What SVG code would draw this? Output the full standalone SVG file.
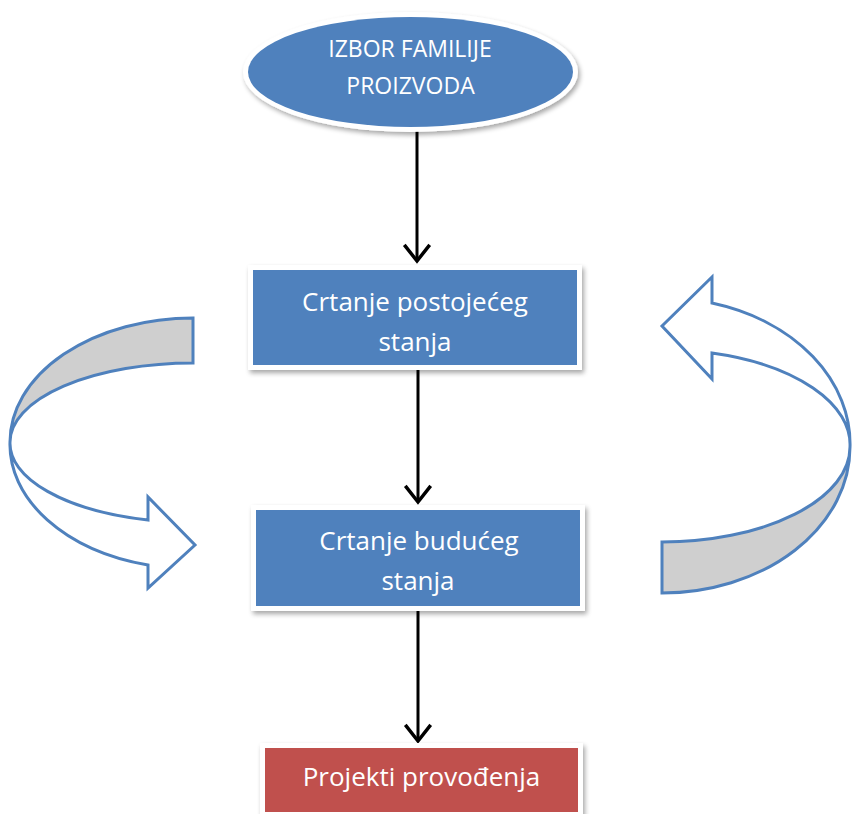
<svg xmlns="http://www.w3.org/2000/svg" width="853" height="814" viewBox="0 0 853 814">
  <defs>
    <style>
      .label { font-family: "Open Sans", "Liberation Sans", sans-serif; fill: #ffffff; text-anchor: middle; }
      .frame { fill: #ffffff; filter: url(#shadow); }
      .blue { fill: #4f81bd; }
      .red { fill: #c0504d; }
      .flow { stroke: #000000; stroke-width: 3; fill: none; marker-end: url(#vhead); }
      .ribbon { stroke: #4f81bd; stroke-width: 3; stroke-linejoin: miter; }
      .back { fill: #cfcfcf; }
      .front { fill: #ffffff; }
    </style>
    <filter id="shadow" x="-10%" y="-20%" width="120%" height="150%">
      <feGaussianBlur in="SourceAlpha" stdDeviation="2.5"/>
      <feOffset dx="2" dy="3" result="b"/>
      <feComponentTransfer><feFuncA type="linear" slope="0.35"/></feComponentTransfer>
      <feMerge><feMergeNode/><feMergeNode in="SourceGraphic"/></feMerge>
    </filter>
    <marker id="vhead" markerUnits="userSpaceOnUse" markerWidth="30" markerHeight="30" viewBox="-17 -13 20 26" refX="0" refY="0" orient="auto">
      <path d="M-14,-11 L0,0 L-14,11" fill="none" stroke="#000000" stroke-width="3"/>
    </marker>
  </defs>

  <!-- curved loop arrows -->
  <g id="loop-left">
    <path class="ribbon back" d="M193,318 A183,124 0 0 0 10,442 A183,79 0 0 1 193,363 Z"/>
    <path class="ribbon front" d="M10,442 A183,124 0 0 0 148,565 L148,588 L195,545 L148,497 L148,520 A183,79 0 0 1 10,442 Z"/>
  </g>
  <g id="loop-right">
    <path class="ribbon back" d="M662,593 A188,146 0 0 0 850,447 A188,95 0 0 1 662,542 Z"/>
    <path class="ribbon front" d="M850,447 A188,146 0 0 0 712,303 L712,277 L662,326 L712,379 L712,353 A188,95 0 0 1 850,447 Z"/>
  </g>

  <!-- connectors -->
  <g id="connectors">
    <line class="flow" x1="417" y1="131" x2="417" y2="261"/>
    <line class="flow" x1="418" y1="370" x2="418" y2="502"/>
    <line class="flow" x1="418" y1="611" x2="418" y2="741"/>
  </g>

  <g id="izbor-familije">
    <ellipse class="frame" cx="410.5" cy="72" rx="167.5" ry="60"/>
    <ellipse class="blue" cx="410.5" cy="72" rx="162.5" ry="55"/>
    <text class="label" x="410" y="57" font-size="23">IZBOR FAMILIJE</text>
    <text class="label" x="410.5" y="94" font-size="23">PROIZVODA</text>
  </g>

  <g id="postojece-stanje">
    <rect class="frame" x="248" y="265" width="334" height="105"/>
    <rect class="blue" x="253" y="270" width="324" height="95"/>
    <text class="label" x="415" y="311" font-size="26">Crtanje postojećeg</text>
    <text class="label" x="415" y="351" font-size="26">stanja</text>
  </g>

  <g id="buduce-stanje">
    <rect class="frame" x="251" y="505" width="334" height="106"/>
    <rect class="blue" x="256" y="510" width="324" height="96"/>
    <text class="label" x="419" y="550" font-size="26">Crtanje budućeg</text>
    <text class="label" x="418" y="590" font-size="26">stanja</text>
  </g>

  <g id="projekti-provodenja">
    <rect class="frame" x="260" y="743" width="323" height="74"/>
    <rect class="red" x="265" y="748" width="313" height="64"/>
    <text class="label" x="421.5" y="786" font-size="26">Projekti provođenja</text>
  </g>
</svg>
